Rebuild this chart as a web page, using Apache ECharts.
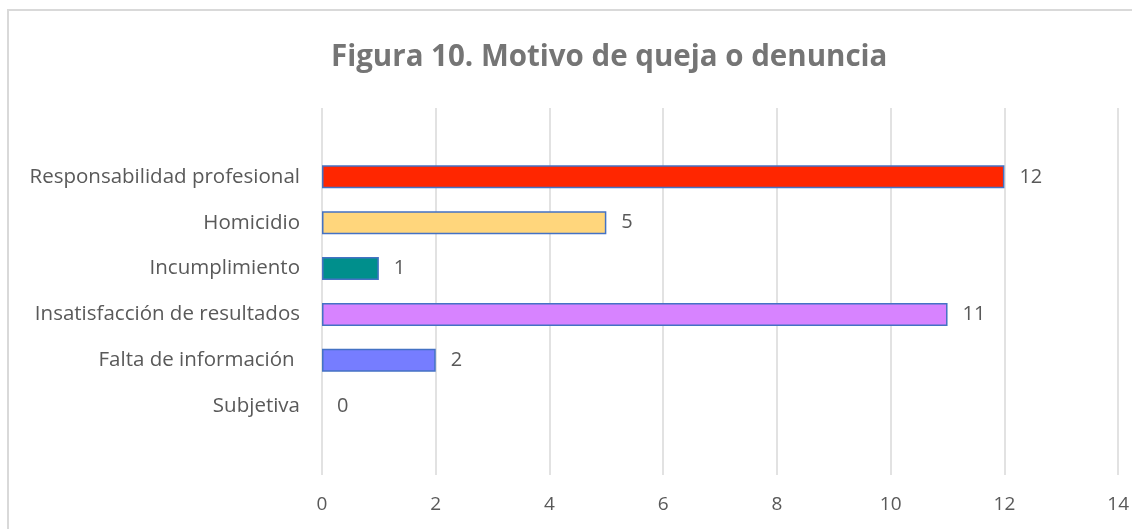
<!DOCTYPE html>
<html>
<head>
<meta charset="utf-8">
<script src="https://cdn.jsdelivr.net/npm/echarts@6/dist/echarts.min.js"></script>
<style>
  html, body { margin: 0; padding: 0; background: #fff; }
  #chart { width: 1132px; height: 529px; }
</style>
</head>
<body>
<div id="chart"></div>
<script>
// Categorías de arriba hacia abajo (las vacías son filas en blanco del original)
const categorias = ['', 'Responsabilidad profesional', 'Homicidio', 'Incumplimiento',
    'Insatisfacción de resultados', 'Falta de información ', 'Subjetiva', ''];
const valores = [null, 12, 5, 1, 11, 2, 0, null];
const colores = ['#ffffff', '#ff2600', '#ffd67c', '#008f8c', '#d783ff', '#767dff', '#ffffff', '#ffffff'];
const ticksX = { min: 0, max: 14, interval: 2 };

const chart = echarts.init(document.getElementById('chart'));

const option = {
    backgroundColor: '#ffffff',
    animation: false,
    title: {
        text: 'Figura 10. Motivo de queja o denuncia',
        left: 326,
        top: 38,
        textStyle: {
            fontFamily: 'Open Sans',
            fontWeight: 'bold',
            fontSize: 29.5,
            color: '#757575'
        }
    },
    graphic: [{
        type: 'rect',
        shape: { x: 8, y: 10, width: 1140, height: 540 },
        style: { fill: 'none', stroke: '#d9d9d9', lineWidth: 2 },
        silent: true
    }],
    grid: { left: 322, right: 11, top: 108, bottom: 54 },
    xAxis: {
        type: 'value',
        min: ticksX.min,
        max: ticksX.max,
        interval: ticksX.interval,
        axisLine: { show: false },
        axisTick: { show: false },
        splitLine: { lineStyle: { color: '#d9d9d9', width: 1.5 } },
        axisLabel: {
            margin: 20,
            fontFamily: 'Liberation Sans Narrow, Open Sans',
            fontSize: 19,
            color: '#595959'
        }
    },
    yAxis: {
        type: 'category',
        inverse: true,
        data: categorias,
        axisLine: { show: false },
        axisTick: { show: false },
        axisLabel: {
            margin: 22,
            fontFamily: 'Open Sans',
            fontSize: 20.5,
            color: '#595959'
        }
    },
    series: [{
        type: 'bar',
        barWidth: '50%',
        data: valores.map((v, i) => ({
            value: v,
            itemStyle: {
                color: colores[i],
                borderWidth: v ? 1.5 : 0
            }
        })),
        itemStyle: { borderColor: '#4472c4' },
        label: {
            show: true,
            position: 'right',
            distance: 15,
            fontFamily: 'Open Sans',
            fontSize: 20,
            color: '#595959',
            formatter: p => (p.value == null ? '' : p.value)
        }
    }]
};

chart.setOption(option);
</script>
</body>
</html>
